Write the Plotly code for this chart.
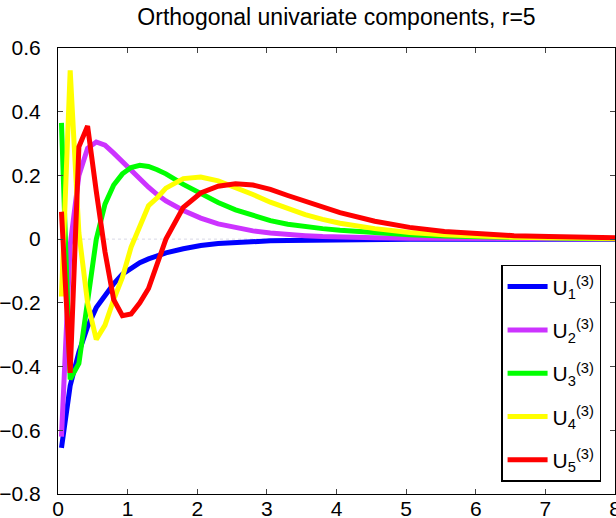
import plotly.graph_objects as go

# sample positions (x)
x = [0.05, 0.175, 0.3, 0.425, 0.55, 0.675, 0.8, 0.925, 1.05, 1.175, 1.3, 1.425,
     1.55, 1.8, 2.05, 2.3, 2.55, 2.8, 3.05, 3.3, 3.55, 3.8, 4.05, 4.55, 5.05,
     5.55, 6.05, 6.55, 7.05, 7.55, 8.0]

u1 = [-0.655, -0.46, -0.355, -0.275, -0.215, -0.175, -0.14, -0.11, -0.09, -0.074,
      -0.062, -0.052, -0.043, -0.03, -0.02, -0.014, -0.01, -0.007, -0.005, -0.004,
      -0.003, -0.002, -0.0015, -0.001, -0.0005, 0.0, 0.0, 0.0, 0.0, 0.0, 0.0]

u2 = [-0.62, -0.02, 0.2, 0.285, 0.305, 0.295, 0.27, 0.243, 0.215, 0.188, 0.163,
      0.14, 0.12, 0.09, 0.066, 0.048, 0.035, 0.026, 0.019, 0.014, 0.011, 0.008,
      0.006, 0.004, 0.003, 0.002, 0.0015, 0.001, 0.0007, 0.0005, 0.0003]

u3 = [0.365, -0.44, -0.39, -0.2, 0.0, 0.11, 0.17, 0.205, 0.225, 0.232, 0.228,
      0.218, 0.205, 0.172, 0.143, 0.115, 0.092, 0.073, 0.058, 0.047, 0.039, 0.033,
      0.028, 0.02, 0.014, 0.01, 0.007, 0.005, 0.003, 0.002, 0.0015]

u4 = [-0.18, 0.53, 0.02, -0.2, -0.315, -0.27, -0.19, -0.12, -0.025, 0.04, 0.105,
      0.13, 0.16, 0.19, 0.195, 0.183, 0.163, 0.14, 0.116, 0.095, 0.077, 0.062,
      0.05, 0.033, 0.021, 0.014, 0.009, 0.006, 0.004, 0.003, 0.002]

u5 = [0.086, -0.42, 0.29, 0.355, 0.15, -0.04, -0.19, -0.24, -0.235, -0.2, -0.155,
      -0.08, 0.0, 0.1, 0.145, 0.166, 0.174, 0.17, 0.156, 0.137, 0.118, 0.1, 0.083,
      0.056, 0.037, 0.024, 0.016, 0.011, 0.008, 0.006, 0.004]

names = ["U<sub>1</sub><sup>(3)</sup>", "U<sub>2</sub><sup>(3)</sup>",
         "U<sub>3</sub><sup>(3)</sup>", "U<sub>4</sub><sup>(3)</sup>",
         "U<sub>5</sub><sup>(3)</sup>"]
series = [u1, u2, u3, u4, u5]
colors = ["#0000FF", "#CC33FF", "#00FF00", "#FFFF00", "#FF0000"]

x_ticks = [0, 1, 2, 3, 4, 5, 6, 7, 8]
y_ticks = [-0.8, -0.6, -0.4, -0.2, 0, 0.2, 0.4, 0.6]
y_labels = ["\u22120.8", "\u22120.6", "\u22120.4", "\u22120.2", "0", "0.2", "0.4", "0.6"]

fig = go.Figure()
for i, (nm, ys, c) in enumerate(zip(names, series, colors)):
    fig.add_trace(go.Scatter(x=x, y=ys, mode="lines", name=nm,
                             legendgroup=f"g{i}",
                             line=dict(color=c, width=5)))

fig.add_shape(type="line", xref="paper", x0=0, x1=1, yref="y", y0=0, y1=0,
              line=dict(color="rgba(170,170,200,0.45)", width=1, dash="dot"),
              layer="below")

fig.update_layout(
    width=616, height=518,
    margin=dict(l=58, r=1, t=48, b=24, autoexpand=False),
    plot_bgcolor="white", paper_bgcolor="white",
    font=dict(family="Liberation Sans, Arial, sans-serif", size=21, color="black"),
    title=dict(text="Orthogonal univariate components, r=5",
               x=0.5, xref="paper", xanchor="center",
               y=1 - 17 / 518, yref="container", yanchor="middle",
               font=dict(size=23)),
    showlegend=True,
    legend=dict(x=0.975, xanchor="right", y=0.027, yanchor="bottom",
                bgcolor="white", bordercolor="black", borderwidth=1.5,
                font=dict(size=21), tracegroupgap=13, itemwidth=40),
    xaxis=dict(range=[0, 8], tickvals=x_ticks, ticks="inside", ticklen=5,
               showline=True, linecolor="black", linewidth=1, mirror="ticks",
               showgrid=False, zeroline=False, ticklabelstandoff=-4,
               ticklabeloverflow="allow", automargin=False),
    yaxis=dict(range=[-0.8, 0.6], tickvals=y_ticks, ticktext=y_labels,
               ticks="inside", ticklen=5,
               showline=True, linecolor="black", linewidth=1, mirror="ticks",
               showgrid=False, zeroline=False, ticklabelstandoff=12,
               automargin=False),
)

fig.write_html("out.html")
